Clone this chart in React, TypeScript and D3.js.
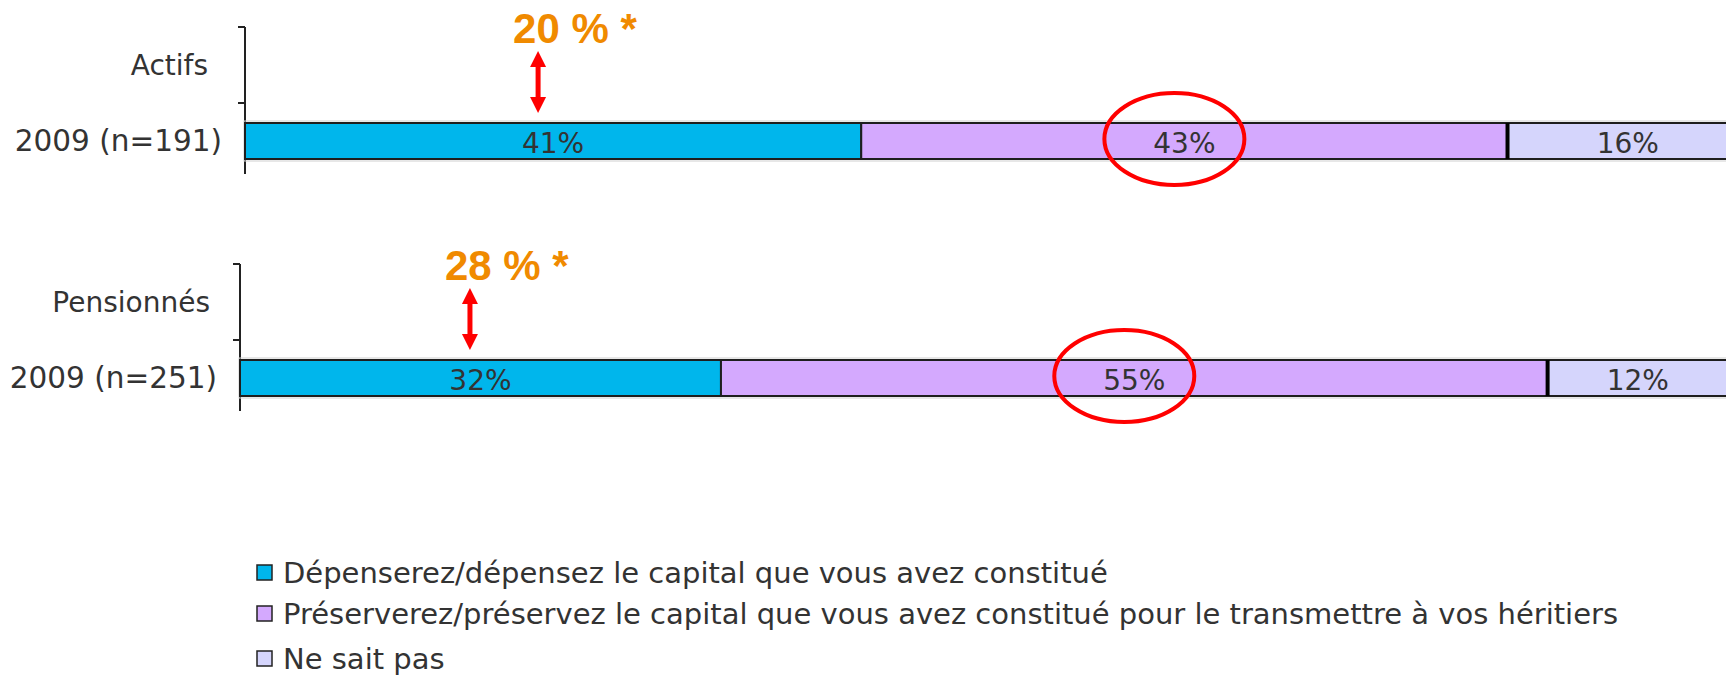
import * as d3 from "d3";
import { useEffect, useRef } from "react";

// chart values
const groups = ["Actifs", "Pensionnés"];
const rowLabels = ["2009 (n=191)", "2009 (n=251)"];
const seriesNames = [
  "Dépenserez/dépensez le capital que vous avez constitué",
  "Préserverez/préservez le capital que vous avez constitué pour le transmettre à vos héritiers",
  "Ne sait pas",
];
const depense = [41, 32];
const preserve = [43, 55];
const neSaitPas = [16, 12];
const highlights = ["20 % *", "28 % *"];

const colors = ["#00b6ec", "#d4a9fe", "#d5d5fc"];
const FONT = "'DejaVu Sans', Verdana, sans-serif";

export default function App() {
  const ref = useRef<SVGSVGElement>(null);

  useEffect(() => {
    if (!ref.current) return;
    const W = 1734;
    const H = 675;
    const svg = d3.select(ref.current);
    svg.selectAll("*").remove();
    svg.attr("width", W).attr("height", H).attr("viewBox", `0 0 ${W} ${H}`);

    // one panel per group
    const panelX = [245, 240];
    const panelY = [27, 264];
    const groupPad = [37, 30];
    const arrowAt = [19.5, 15.3]; // annotation arrow position, in % of the x scale

    const x = d3.scaleLinear().domain([0, 100]).range([0, 1503]);
    const barH = 36;

    groups.forEach((grp, i) => {
      const g = svg.append("g").attr("transform", `translate(${panelX[i]},${panelY[i]})`);
      const y = d3.scaleBand<string>().domain([grp, rowLabels[i]]).range([0, 152]);
      const barTop = (y(rowLabels[i]) as number) + (y.bandwidth() - barH) / 2;
      const barMid = barTop + barH / 2;

      // axis line + ticks at band boundaries
      g.append("line")
        .attr("x1", 0).attr("x2", 0)
        .attr("y1", 0).attr("y2", 147)
        .attr("stroke", "#222").attr("stroke-width", 2);
      y.domain().forEach((d) => {
        g.append("line")
          .attr("x1", -7).attr("x2", 0)
          .attr("y1", y(d) as number).attr("y2", y(d) as number)
          .attr("stroke", "#222").attr("stroke-width", 2);
      });

      g.append("text")
        .attr("x", -groupPad[i])
        .attr("y", (y(grp) as number) + y.bandwidth() / 2)
        .attr("text-anchor", "end")
        .attr("dominant-baseline", "central")
        .attr("font-family", FONT)
        .attr("font-size", 28)
        .attr("fill", "#333")
        .text(grp);
      g.append("text")
        .attr("x", -23)
        .attr("y", barMid)
        .attr("text-anchor", "end")
        .attr("dominant-baseline", "central")
        .attr("font-family", FONT)
        .attr("font-size", 29.5)
        .attr("fill", "#333")
        .text(rowLabels[i]);

      // stacked segments
      const vals = [depense[i], preserve[i], neSaitPas[i]];
      let acc = 0;
      const segs = vals.map((v, k) => {
        const s = { x0: acc, x1: acc + v, v, k };
        acc += v;
        return s;
      });

      g.append("rect")
        .attr("x", x(0) - 1)
        .attr("y", barTop - 2)
        .attr("width", x(acc) + 2)
        .attr("height", barH + 4)
        .attr("fill", "none")
        .attr("stroke", "#cfcfcf")
        .attr("stroke-width", 1);

      g.selectAll("rect.seg")
        .data(segs)
        .enter()
        .append("rect")
        .attr("class", "seg")
        .attr("x", (d) => x(d.x0))
        .attr("y", barTop)
        .attr("width", (d) => x(d.x1) - x(d.x0))
        .attr("height", barH)
        .attr("fill", (d) => colors[d.k])
        .attr("stroke", "#1e1e1e")
        .attr("stroke-width", 2);

      // separators
      g.append("line")
        .attr("x1", x(segs[2].x0)).attr("x2", x(segs[2].x0))
        .attr("y1", barTop).attr("y2", barTop + barH)
        .attr("stroke", "#000").attr("stroke-width", 4);

      g.selectAll("text.val")
        .data(segs)
        .enter()
        .append("text")
        .attr("class", "val")
        .attr("x", (d) => (x(d.x0) + x(d.x1)) / 2)
        .attr("y", barMid + 2)
        .attr("text-anchor", "middle")
        .attr("dominant-baseline", "central")
        .attr("font-family", FONT)
        .attr("font-size", 28)
        .attr("fill", "#333")
        .text((d) => `${d.v}%`);

      // red ellipse around the "préserver" share
      const mid = (x(segs[1].x0) + x(segs[1].x1)) / 2 - 10;
      g.append("ellipse")
        .attr("cx", mid)
        .attr("cy", barMid - 2)
        .attr("rx", 70)
        .attr("ry", 46)
        .attr("fill", "none")
        .attr("stroke", "#ff0000")
        .attr("stroke-width", 4);

      // double arrow + orange annotation
      const ax = x(arrowAt[i]);
      const a0 = barTop - 72;
      const a1 = barTop - 10;
      g.append("line")
        .attr("x1", ax).attr("x2", ax)
        .attr("y1", a0 + 14).attr("y2", a1 - 14)
        .attr("stroke", "#ff0000").attr("stroke-width", 5);
      g.append("path")
        .attr("d", `M${ax},${a0} L${ax - 8},${a0 + 16} L${ax + 8},${a0 + 16} Z`)
        .attr("fill", "#ff0000");
      g.append("path")
        .attr("d", `M${ax},${a1} L${ax - 8},${a1 - 16} L${ax + 8},${a1 - 16} Z`)
        .attr("fill", "#ff0000");
      g.append("text")
        .attr("x", ax - 25)
        .attr("y", a0 - 8)
        .attr("font-family", "'Liberation Sans', Arial, sans-serif")
        .attr("font-weight", "bold")
        .attr("font-size", 42)
        .attr("fill", "#f08a00")
        .text(highlights[i]);
    });

    // legend
    const legY = [573, 614, 659];
    const leg = svg.append("g").attr("transform", "translate(257,0)");
    seriesNames.forEach((name, k) => {
      leg.append("rect")
        .attr("x", 0)
        .attr("y", legY[k] - 8)
        .attr("width", 15)
        .attr("height", 15)
        .attr("fill", colors[k])
        .attr("stroke", "#222")
        .attr("stroke-width", 1.5);
      leg.append("text")
        .attr("x", 26)
        .attr("y", legY[k])
        .attr("dominant-baseline", "central")
        .attr("font-family", FONT)
        .attr("font-size", 29)
        .attr("fill", "#333")
        .text(name);
    });
  }, []);

  return (
    <div style={{ width: 1734, height: 675, position: "relative" }}>
      <svg ref={ref} style={{ position: "absolute", left: -8, top: -8, display: "block" }} />
    </div>
  );
}
